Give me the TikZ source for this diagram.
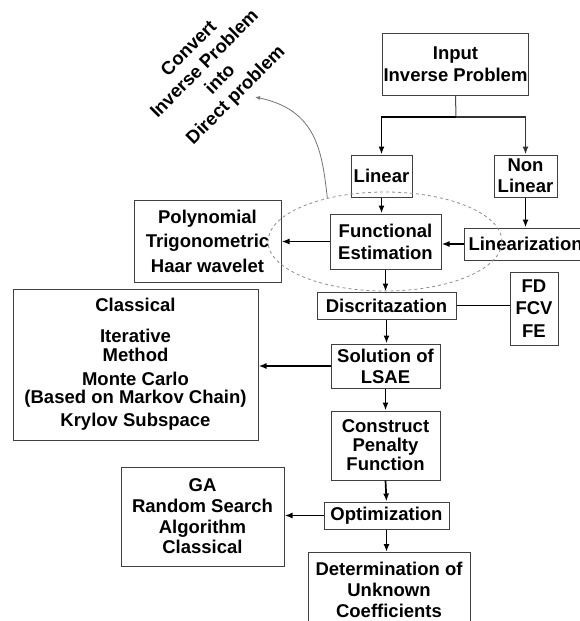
\documentclass[tikz,border=0pt]{standalone}
\usepackage{fontspec}
\setmainfont{Liberation Sans}
\usetikzlibrary{arrows.meta,shapes.geometric}
\tikzset{
  mybox/.style={draw=black!75,line width=1pt,align=center,inner sep=1pt,
    font=\fontsize{18.5}{21}\selectfont\bfseries},
  myarrow/.style={line width=1.7pt,-{Latex[length=8pt,width=6pt]}},
  myline/.style={line width=1.7pt}
}
\begin{document}
\begin{tikzpicture}[x=1pt,y=-1pt]
        \useasboundingbox (0,0) rectangle (579,621);
        \node[mybox,minimum width=145,minimum height=62,
          font=\fontsize{18.5}{22}\selectfont\bfseries] (input) at (455.5,64) {Input\\Inverse Problem};
        \node[mybox,minimum width=61,minimum height=42] (linear) at (381.5,176) {Linear};
        \node[mybox,minimum width=63,minimum height=42] (nonlinear) at (525.5,176) {Non\\Linear};
        \node[mybox,minimum width=111,minimum height=55,
          font=\fontsize{18.5}{22}\selectfont\bfseries] (func) at (385.5,241.5) {Functional\\Estimation};
        \node[mybox,minimum height=32,anchor=west,text width=140,align=left,inner xsep=4pt] (linz) at (464,244) {Linearization};
        \node[mybox,minimum width=147,minimum height=82,
          font=\fontsize{18.5}{24.5}\selectfont\bfseries] (poly) at (207.5,241) {Polynomial\\Trigonometric\\Haar wavelet};
        \node[mybox,minimum width=139,minimum height=27] (disc) at (386.5,305.5) {Discritazation};
        \node[mybox,minimum width=48,minimum height=73,
          font=\fontsize{18.5}{22.5}\selectfont\bfseries] (fd) at (534,308.5) {FD\\FCV\\FE};
        \node[mybox,minimum width=245,minimum height=151,
          font=\fontsize{18.5}{20}\selectfont\bfseries] (classical) at (135.5,364.5)
          {Classical\\[11pt]Iterative\\[-1pt]Method\\[4pt]Monte Carlo\\[-2pt](Based on Markov Chain)\\[3pt]Krylov Subspace};
        \node[mybox,minimum width=109,minimum height=44] (lsae) at (385.5,366) {Solution of\\LSAE};
        \node[mybox,minimum width=109,minimum height=69,
          font=\fontsize{18.5}{19}\selectfont\bfseries] (penalty) at (385.5,445.5) {Construct\\Penalty\\Function};
        \node[mybox,minimum width=125,minimum height=27] (opt) at (386.5,515.5) {Optimization};
        \node[mybox,minimum width=163,minimum height=99,
          font=\fontsize{18.5}{20.7}\selectfont\bfseries] (ga) at (202.5,516.5) {GA\\Random Search\\Algorithm\\Classical};
        \node[mybox,minimum width=162,minimum height=74,anchor=north] (det) at (389,552)
          {Determination of\\Unknown\\Coefficients};
        \node[rotate=45,align=center,font=\fontsize{18.5}{22}\selectfont\bfseries] (convert) at (213,72.5)
          {Convert\\Inverse Problem\\into\\Direct problem};
        \coordinate (split) at (456,117);
        \coordinate (tip) at (255,97);

        \draw[black!70,line width=1pt] (input.south) -- (split);
        \draw[myarrow] (split) -| (linear.north);
        \draw[myarrow,black!80] (split) -| (nonlinear.north);
        \draw[myarrow] (linear.south) -- (linear.south |- func.north);
        \draw[myarrow] (nonlinear.south) -- (nonlinear.south |- linz.north);
        \draw[myarrow] (linz.west) -- (func.east |- linz.west);
        \draw[myarrow] (func.west) -- (poly.east |- func.west);
        \draw[myarrow] (func.south) -- (func.south |- disc.north);
        \draw[myline] (disc.east) -- (disc.east -| fd.west);
        \draw[myarrow] (disc.south) -- (disc.south |- lsae.north);
        \draw[myarrow] (lsae.west) -- (classical.east |- lsae.west);
        \draw[myarrow] (lsae.south) -- (penalty.north);
        \draw[myarrow] (penalty.south) -- (opt.north);
        \draw[myarrow] (opt.west) -- (ga.east |- opt.west);
        \draw[myarrow] (opt.south) -- (opt.south |- det.north);

        \node[draw=black!45,dashed,line width=0.8pt,ellipse,inner sep=0pt,
          minimum width=234,minimum height=99] (focus) at (385,241.5) {};
        \draw[black!55,line width=0.8pt,-{Latex[length=5pt,width=4pt]}]
          (focus.143) .. controls (322,150) and (316,110) .. (tip);
\end{tikzpicture}
\end{document}
